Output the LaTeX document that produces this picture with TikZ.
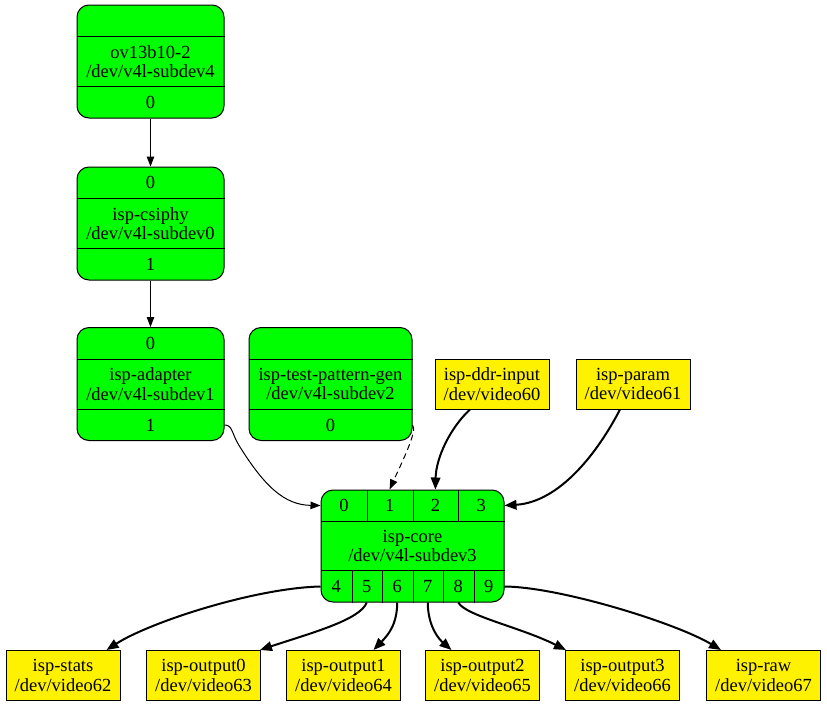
\documentclass[tikz,border=0pt]{standalone}
\usepackage{fontspec}
\setmainfont{Liberation Serif}
\usepackage{tikz}
\usetikzlibrary{arrows.meta}

\begin{document}
\begin{tikzpicture}[x=1pt,y=-1pt,line width=1pt,
    every node/.style={font=\fontsize{18.5pt}{19.5pt}\selectfont},
    rec/.style={draw, fill=green, rounded corners=12pt, minimum height=113pt, align=center, inner sep=0pt},
    dev/.style={draw, fill=yellow, minimum width=114pt, minimum height=50pt, align=center, inner sep=0pt},
    pin/.style={inner sep=0pt, minimum height=31pt},
    link/.style={-{Triangle[length=10pt,width=7.5pt]}},
    bold/.style={line width=2pt, -{Triangle[length=12pt,width=9.5pt]}}]
    \useasboundingbox (0,0) rectangle (827,707);

    \node[rec, minimum width=147pt] (sensor) at (150.5,61.5) {ov13b10-2\\/dev/v4l-subdev4};
    \node[pin, minimum width=147pt] (sensor-top) at (150.5,20.5) {};
    \node[pin, minimum width=147pt] (sensor-0) at (150.5,102.5) {0};
    \draw (sensor-top.south west) -- (sensor-top.south east);
    \draw (sensor-0.north west) -- (sensor-0.north east);

    \node[rec, minimum width=147pt] (csiphy) at (150.5,223.5) {isp-csiphy\\/dev/v4l-subdev0};
    \node[pin, minimum width=147pt] (csiphy-0) at (150.5,182.5) {0};
    \node[pin, minimum width=147pt] (csiphy-1) at (150.5,264.5) {1};
    \draw (csiphy-0.south west) -- (csiphy-0.south east);
    \draw (csiphy-1.north west) -- (csiphy-1.north east);

    \node[rec, minimum width=147pt] (adapter) at (150.5,384) {isp-adapter\\/dev/v4l-subdev1};
    \node[pin, minimum width=147pt] (adapter-0) at (150.5,343) {0};
    \node[pin, minimum width=147pt] (adapter-1) at (150.5,425) {1};
    \draw (adapter-0.south west) -- (adapter-0.south east);
    \draw (adapter-1.north west) -- (adapter-1.north east);

    \node[rec, minimum width=163pt] (testgen) at (330.5,384) {isp-test-pattern-gen\\/dev/v4l-subdev2};
    \node[pin, minimum width=163pt] (testgen-top) at (330.5,343) {};
    \node[pin, minimum width=163pt] (testgen-0) at (330.5,425) {0};
    \draw (testgen-top.south west) -- (testgen-top.south east);
    \draw (testgen-0.north west) -- (testgen-0.north east);

    \node[dev] (ddr) at (492,384) {isp-ddr-input\\/dev/video60};
    \node[dev] (param) at (633,384) {isp-param\\/dev/video61};

    \node[rec, minimum width=183pt, minimum height=112pt] (core) at (412.5,546) {isp-core\\/dev/v4l-subdev3};
    \node[pin, minimum width=45.75pt] (core-0) at (343.875,505.5) {0};
    \node[pin, minimum width=45.75pt] (core-1) at (389.625,505.5) {1};
    \node[pin, minimum width=45.75pt] (core-2) at (435.375,505.5) {2};
    \node[pin, minimum width=45.75pt] (core-3) at (481.125,505.5) {3};
    \node[pin, minimum width=30.5pt] (core-4) at (336.25,586.5) {4};
    \node[pin, minimum width=30.5pt] (core-5) at (366.75,586.5) {5};
    \node[pin, minimum width=30.5pt] (core-6) at (397.25,586.5) {6};
    \node[pin, minimum width=30.5pt] (core-7) at (427.75,586.5) {7};
    \node[pin, minimum width=30.5pt] (core-8) at (458.25,586.5) {8};
    \node[pin, minimum width=30.5pt] (core-9) at (488.75,586.5) {9};
    \draw (core-0.south west) -- (core-3.south east);
    \draw (core-4.north west) -- (core-9.north east);
    \draw (core-0.north east) -- (core-0.south east);
    \draw (core-1.north east) -- (core-1.south east);
    \draw (core-2.north east) -- (core-2.south east);
    \draw (core-4.north east) -- (core-4.south east);
    \draw (core-5.north east) -- (core-5.south east);
    \draw (core-6.north east) -- (core-6.south east);
    \draw (core-7.north east) -- (core-7.south east);
    \draw (core-8.north east) -- (core-8.south east);

    \node[dev] (stats) at (63,675.5) {isp-stats\\/dev/video62};
    \node[dev] (output0) at (203.5,675.5) {isp-output0\\/dev/video63};
    \node[dev] (output1) at (343.5,675.5) {isp-output1\\/dev/video64};
    \node[dev] (output2) at (482.5,675.5) {isp-output2\\/dev/video65};
    \node[dev] (output3) at (622.5,675.5) {isp-output3\\/dev/video66};
    \node[dev] (raw) at (763.5,675.5) {isp-raw\\/dev/video67};

    \draw[link] (sensor-0.south) -- (csiphy-0.north);
    \draw[link] (csiphy-1.south) -- (adapter-0.north);
    \draw[link] (adapter-1.east) .. controls (233,425) and (231,433) .. (240,447)
        .. controls (265,487) and (285,505) .. (core-0.west);
    \draw[link, dash pattern=on 6pt off 4pt] (testgen-0.east) .. controls (418,430) and (402,462) .. (core-1.north);
    \draw[bold] ([xshift=-22pt]ddr.south) .. controls (450,428) and (436,458) .. (core-2.north);
    \draw[bold] ([xshift=-13pt]param.south) .. controls (598,452) and (560,502) .. (core-3.east);

    \draw[bold] (core-4.west) .. controls (255,588) and (150,622) .. ([xshift=-14pt]stats.north east);
    \draw[bold] (core-5.south) .. controls (360,620) and (311,633) .. ([xshift=-1pt]output0.north east);
    \draw[bold] (core-6.south) .. controls (397,625) and (388,635) .. ([xshift=30pt]output1.north);
    \draw[bold] (core-7.south) .. controls (428,628) and (440,640) .. ([xshift=-31pt]output2.north);
    \draw[bold] (core-8.south) .. controls (466,616) and (520,627) .. ([xshift=1pt]output3.north west);
    \draw[bold] (core-9.east) .. controls (560,587) and (676,623) .. ([xshift=15pt]raw.north west);
\end{tikzpicture}
\end{document}
